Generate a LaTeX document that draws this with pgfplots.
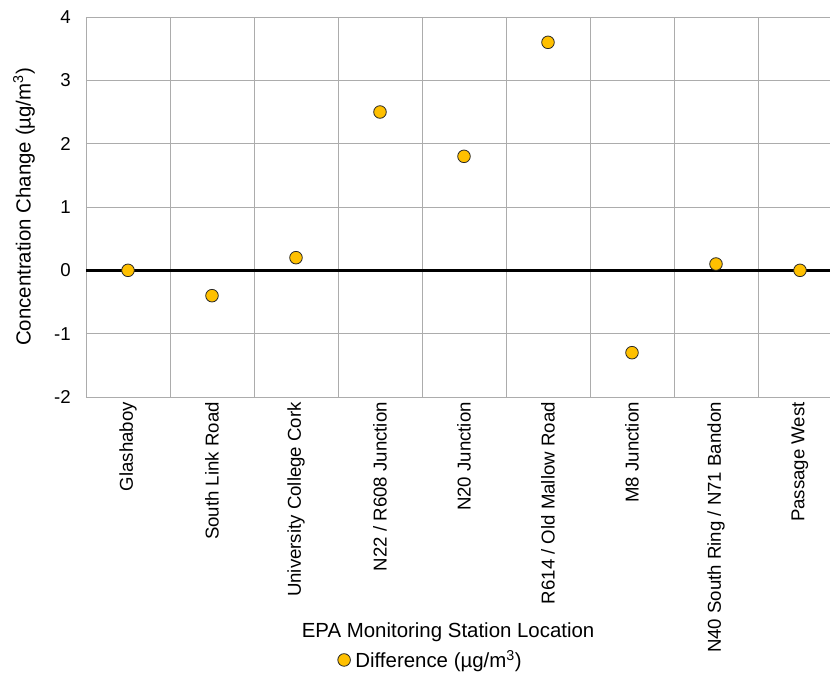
\documentclass[border=0pt]{standalone}
\usepackage{pgfplots}
\pgfplotsset{compat=1.18}
\usepackage{fontspec}
\setmainfont{Liberation Sans}
\definecolor{gridc}{RGB}{172,172,172}
\definecolor{mk}{RGB}{255,192,0}
\begin{document}
\begin{tikzpicture}
\begin{axis}[
  at={(0,0)}, anchor=south west,
  scale only axis, width=756bp, height=380bp,
  xmin=-0.5, xmax=8.5, ymin=-2, ymax=4,
  ytick={-2,-1,0,1,2,3,4},
  yticklabels={-2,-1,0,1,2,3,4},
  xtick={0,1,2,3,4,5,6,7,8},
  xticklabels={Glashaboy,South Link Road,University College Cork,N22 / R608 Junction,N20 Junction,R614 / Old Mallow Road,M8 Junction,N40 South Ring / N71 Bandon,Passage West},
  minor xtick={0.5,1.5,2.5,3.5,4.5,5.5,6.5,7.5},
  xminorgrids, ymajorgrids,
  grid style={gridc, line width=0.8bp},
  minor grid style={gridc, line width=0.8bp},
  axis line style={gridc, line width=0.8bp},
  major tick length=0, minor tick length=0,
  tick label style={font=\fontsize{18.7}{22}\selectfont, text=black},
  xticklabel style={rotate=90, anchor=east, inner sep=5bp},
  yticklabel style={inner sep=0bp, xshift=-15bp},
  extra y ticks={0}, extra y tick labels={},
  extra y tick style={grid style={black, line width=3bp}},
  xlabel={EPA Monitoring Station Location},
  xlabel style={at={(axis description cs:0.479,-0.618)}, anchor=center, font=\fontsize{20.5}{24}\selectfont},
  ylabel={Concentration Change (µg/m\textsuperscript{3})},
  ylabel style={at={(axis description cs:-0.082,0.5)}, anchor=center, font=\fontsize{20.5}{24}\selectfont},
  legend style={at={(axis description cs:0.456,-0.692)}, anchor=center, draw=none, fill=none, font=\fontsize{20.5}{24}\selectfont, inner sep=0pt, column sep=3bp},
  legend cell align=left,
  clip=false,
]
\addplot[only marks, mark=*, mark size=6.3bp, mark options={fill=mk, draw=black!85, line width=0.8bp}]
  coordinates {(0,0) (1,-0.4) (2,0.2) (3,2.5) (4,1.8) (5,3.6) (6,-1.3) (7,0.1) (8,0)};
\addlegendentry{Difference (µg/m\textsuperscript{3})}
\end{axis}
\pgfresetboundingbox
\path (-86bp,-278bp) rectangle (744bp,397bp);
\end{tikzpicture}
\end{document}
